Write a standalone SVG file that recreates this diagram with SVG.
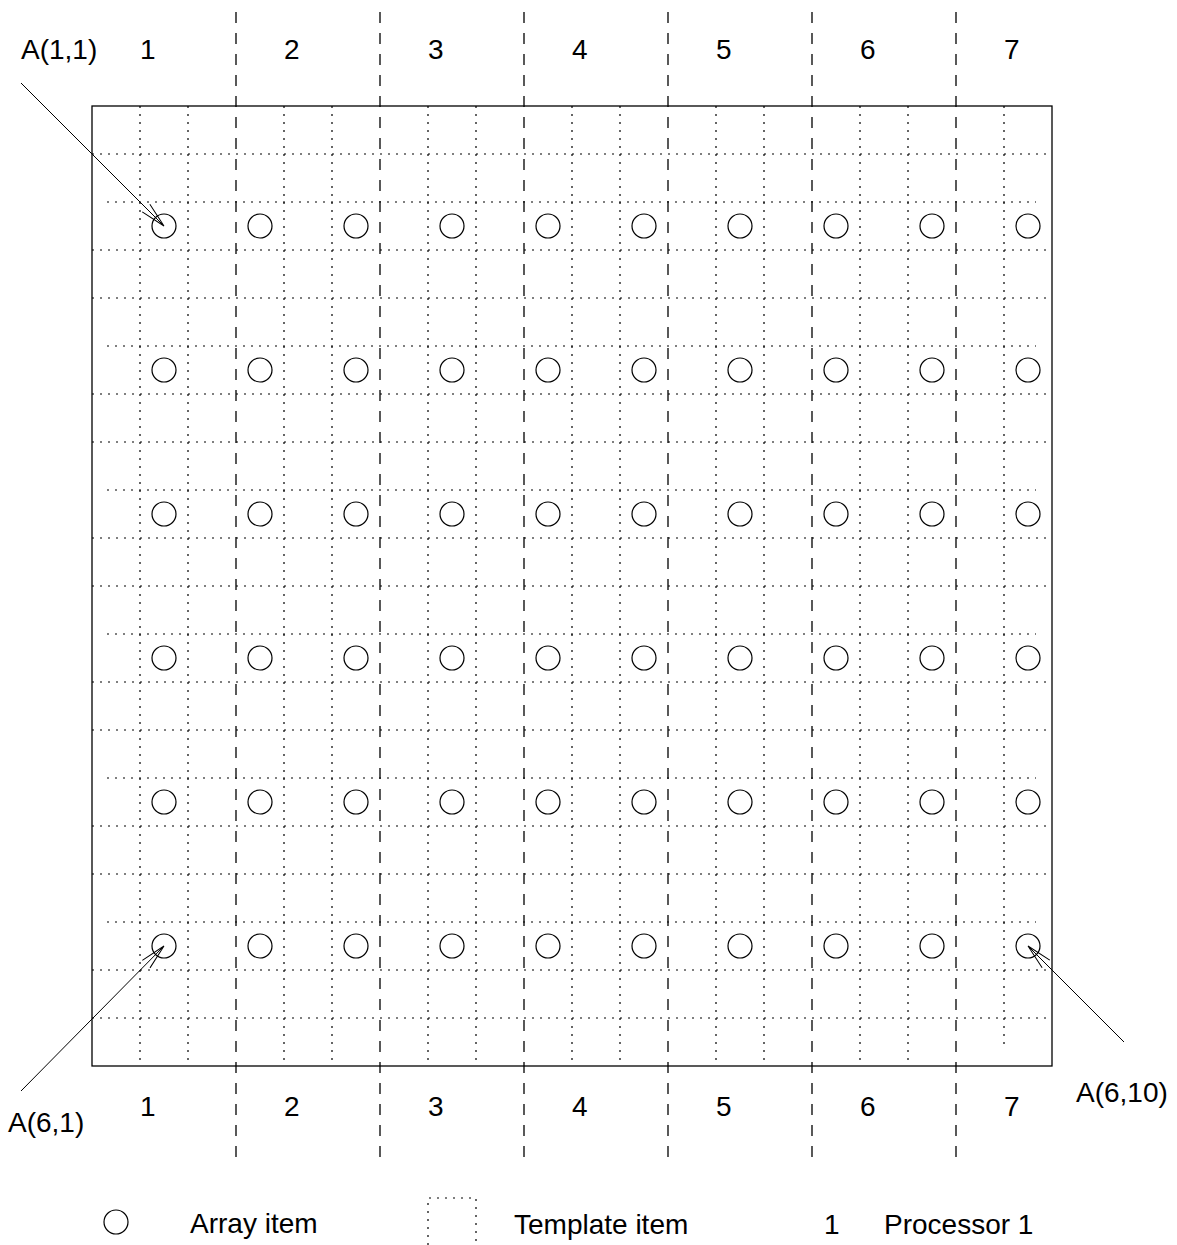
<svg xmlns="http://www.w3.org/2000/svg" width="1177" height="1245" viewBox="0 0 1177 1245">
<style>
.lbl{font-family:"Liberation Sans",Arial,sans-serif;font-size:28px;fill:#000}
.frame{fill:none;stroke:#000;stroke-width:1.3}
.dash{stroke:#000;stroke-width:1.3;stroke-dasharray:11 10;fill:none}
.dot{stroke:#000;stroke-width:1.2;stroke-dasharray:2 6;fill:none}
.item{fill:none;stroke:#000;stroke-width:1.2}
.conn{stroke:#000;stroke-width:1;fill:none}
</style>
<defs>
<marker id="open" viewBox="-28 -8 30 16" markerWidth="30" markerHeight="16" refX="0" refY="0" orient="auto" markerUnits="userSpaceOnUse">
<path d="M-25.4,-5.4 L0,0 L-25.4,5.4" fill="none" stroke="#000" stroke-width="1"/>
</marker>
<circle id="c" r="12" class="item"/>
</defs>
<rect x="0" y="0" width="1177" height="1245" fill="#fff"/>

<g id="template-grid">
<line class="dot" x1="140" y1="106" x2="140" y2="1066"/>
<line class="dot" x1="188" y1="106" x2="188" y2="1066"/>
<line class="dot" x1="284" y1="106" x2="284" y2="1066"/>
<line class="dot" x1="332" y1="106" x2="332" y2="1066"/>
<line class="dot" x1="428" y1="106" x2="428" y2="1066"/>
<line class="dot" x1="476" y1="106" x2="476" y2="1066"/>
<line class="dot" x1="572" y1="106" x2="572" y2="1066"/>
<line class="dot" x1="620" y1="106" x2="620" y2="1066"/>
<line class="dot" x1="716" y1="106" x2="716" y2="1066"/>
<line class="dot" x1="764" y1="106" x2="764" y2="1066"/>
<line class="dot" x1="860" y1="106" x2="860" y2="1066"/>
<line class="dot" x1="908" y1="106" x2="908" y2="1066"/>
<line class="dot" x1="1004" y1="106" x2="1004" y2="1047"/>
<line class="dot" x1="92" y1="154" x2="1052" y2="154"/>
<line class="dot" x1="107" y1="202" x2="1036" y2="202"/>
<line class="dot" x1="92" y1="250" x2="1052" y2="250"/>
<line class="dot" x1="92" y1="298" x2="1052" y2="298"/>
<line class="dot" x1="107" y1="346" x2="1036" y2="346"/>
<line class="dot" x1="92" y1="394" x2="1052" y2="394"/>
<line class="dot" x1="92" y1="442" x2="1052" y2="442"/>
<line class="dot" x1="107" y1="490" x2="1036" y2="490"/>
<line class="dot" x1="92" y1="538" x2="1052" y2="538"/>
<line class="dot" x1="92" y1="586" x2="1052" y2="586"/>
<line class="dot" x1="107" y1="634" x2="1036" y2="634"/>
<line class="dot" x1="92" y1="682" x2="1052" y2="682"/>
<line class="dot" x1="92" y1="730" x2="1052" y2="730"/>
<line class="dot" x1="107" y1="778" x2="1036" y2="778"/>
<line class="dot" x1="92" y1="826" x2="1052" y2="826"/>
<line class="dot" x1="92" y1="874" x2="1052" y2="874"/>
<line class="dot" x1="107" y1="922" x2="1036" y2="922"/>
<line class="dot" x1="92" y1="970" x2="1052" y2="970"/>
<line class="dot" x1="92" y1="1018" x2="1052" y2="1018"/>
</g>

<g id="frame">
<rect class="frame" x="92" y="106" width="960" height="960"/>
</g>

<g id="processor-lines">
<line class="dash" x1="236" y1="12" x2="236" y2="1162"/>
<line class="dash" x1="380" y1="12" x2="380" y2="1162"/>
<line class="dash" x1="524" y1="12" x2="524" y2="1162"/>
<line class="dash" x1="668" y1="12" x2="668" y2="1162"/>
<line class="dash" x1="812" y1="12" x2="812" y2="1162"/>
<line class="dash" x1="956" y1="12" x2="956" y2="1162"/>
</g>

<g id="processor-labels" class="lbl">
<text x="140" y="59">1</text><text x="284" y="59">2</text><text x="428" y="59">3</text><text x="572" y="59">4</text><text x="716" y="59">5</text><text x="860" y="59">6</text><text x="1004" y="59">7</text>
<text x="140" y="1116">1</text><text x="284" y="1116">2</text><text x="428" y="1116">3</text><text x="572" y="1116">4</text><text x="716" y="1116">5</text><text x="860" y="1116">6</text><text x="1004" y="1116">7</text>
</g>

<g id="array-items">
<g id="A1"><use href="#c" x="164" y="226"/><use href="#c" x="260" y="226"/><use href="#c" x="356" y="226"/><use href="#c" x="452" y="226"/><use href="#c" x="548" y="226"/><use href="#c" x="644" y="226"/><use href="#c" x="740" y="226"/><use href="#c" x="836" y="226"/><use href="#c" x="932" y="226"/><use href="#c" x="1028" y="226"/></g>
<g id="A2"><use href="#c" x="164" y="370"/><use href="#c" x="260" y="370"/><use href="#c" x="356" y="370"/><use href="#c" x="452" y="370"/><use href="#c" x="548" y="370"/><use href="#c" x="644" y="370"/><use href="#c" x="740" y="370"/><use href="#c" x="836" y="370"/><use href="#c" x="932" y="370"/><use href="#c" x="1028" y="370"/></g>
<g id="A3"><use href="#c" x="164" y="514"/><use href="#c" x="260" y="514"/><use href="#c" x="356" y="514"/><use href="#c" x="452" y="514"/><use href="#c" x="548" y="514"/><use href="#c" x="644" y="514"/><use href="#c" x="740" y="514"/><use href="#c" x="836" y="514"/><use href="#c" x="932" y="514"/><use href="#c" x="1028" y="514"/></g>
<g id="A4"><use href="#c" x="164" y="658"/><use href="#c" x="260" y="658"/><use href="#c" x="356" y="658"/><use href="#c" x="452" y="658"/><use href="#c" x="548" y="658"/><use href="#c" x="644" y="658"/><use href="#c" x="740" y="658"/><use href="#c" x="836" y="658"/><use href="#c" x="932" y="658"/><use href="#c" x="1028" y="658"/></g>
<g id="A5"><use href="#c" x="164" y="802"/><use href="#c" x="260" y="802"/><use href="#c" x="356" y="802"/><use href="#c" x="452" y="802"/><use href="#c" x="548" y="802"/><use href="#c" x="644" y="802"/><use href="#c" x="740" y="802"/><use href="#c" x="836" y="802"/><use href="#c" x="932" y="802"/><use href="#c" x="1028" y="802"/></g>
<g id="A6"><use href="#c" x="164" y="946"/><use href="#c" x="260" y="946"/><use href="#c" x="356" y="946"/><use href="#c" x="452" y="946"/><use href="#c" x="548" y="946"/><use href="#c" x="644" y="946"/><use href="#c" x="740" y="946"/><use href="#c" x="836" y="946"/><use href="#c" x="932" y="946"/><use href="#c" x="1028" y="946"/></g>
</g>

<g id="connectors">
<line class="conn" x1="21" y1="83" x2="164" y2="226" marker-end="url(#open)"/>
<line class="conn" x1="21" y1="1091" x2="164" y2="946" marker-end="url(#open)"/>
<line class="conn" x1="1124" y1="1042" x2="1028" y2="946" marker-end="url(#open)"/>
</g>

<g id="callouts" class="lbl">
<text x="21" y="59">A(1,1)</text>
<text x="8" y="1132">A(6,1)</text>
<text x="1076" y="1102">A(6,10)</text>
</g>

<g id="legend">
<use href="#c" x="116" y="1222"/>
<text class="lbl" x="190" y="1233">Array item</text>
<path class="dot" d="M428,1245 V1198 H476 V1245"/>
<text class="lbl" x="514" y="1234">Template item</text>
<text class="lbl" x="824" y="1234">1</text>
<text class="lbl" x="884" y="1234">Processor 1</text>
</g>
</svg>
